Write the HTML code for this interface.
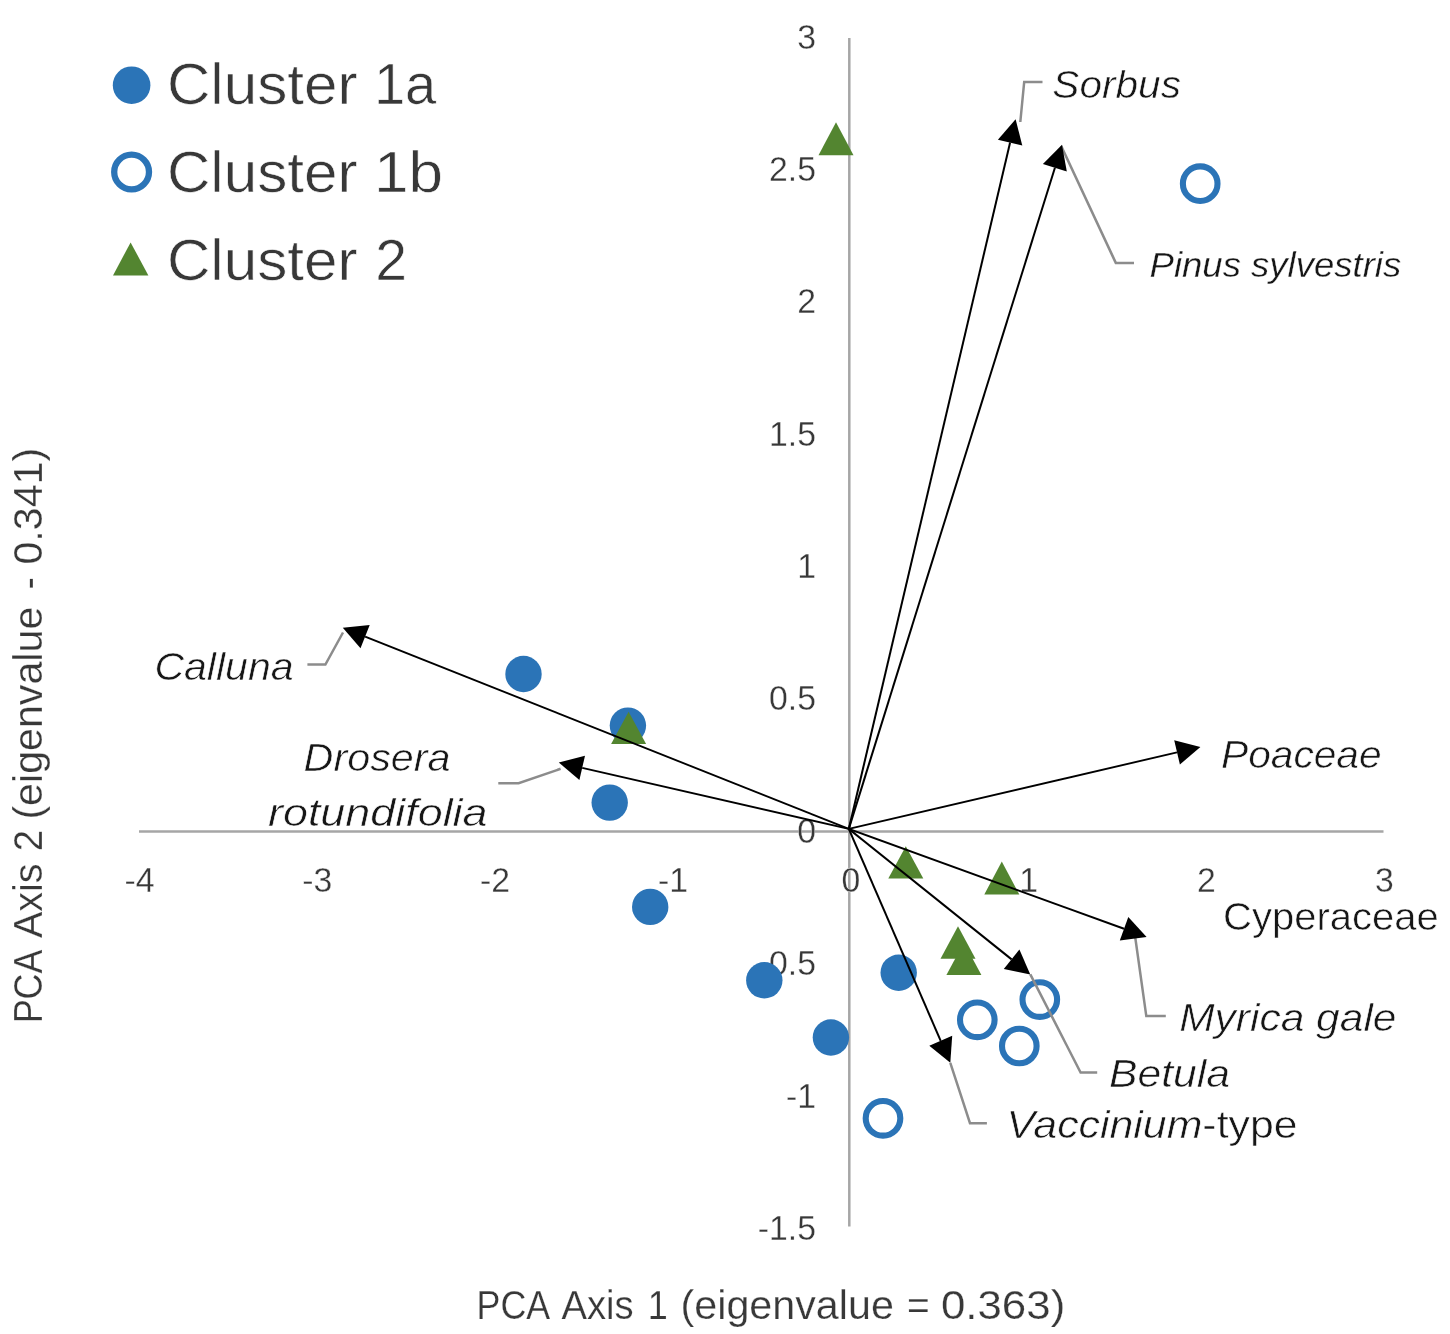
<!DOCTYPE html>
<html><head><meta charset="utf-8"><title>PCA biplot</title>
<style>html,body{margin:0;padding:0;background:#fff;}svg{display:block;}text{font-family:"Liberation Sans",sans-serif;}</style></head>
<body>
<svg width="1450" height="1334" viewBox="0 0 1450 1334">
<rect x="0" y="0" width="1450" height="1334" fill="#ffffff"/>
<g stroke="#a6a6a6" stroke-width="2.5" fill="none">
<line x1="139" y1="831.4" x2="1383.5" y2="831.4"/>
<line x1="849.3" y1="38" x2="849.3" y2="1226.5"/>
</g>
<g font-size="35" fill="#383838" stroke="#fff" stroke-width="0.3" opacity="0.999">
<text transform="translate(816.0,48.7) scale(0.965,1)" text-anchor="end">3</text>
<text transform="translate(816.0,181.0) scale(0.965,1)" text-anchor="end">2.5</text>
<text transform="translate(816.0,313.4) scale(0.965,1)" text-anchor="end">2</text>
<text transform="translate(816.0,445.8) scale(0.965,1)" text-anchor="end">1.5</text>
<text transform="translate(816.0,578.1) scale(0.965,1)" text-anchor="end">1</text>
<text transform="translate(816.0,710.4) scale(0.965,1)" text-anchor="end">0.5</text>
<text transform="translate(816.0,842.8) scale(0.965,1)" text-anchor="end">0</text>
<text transform="translate(816.0,975.1) scale(0.965,1)" text-anchor="end">-0.5</text>
<text transform="translate(816.0,1107.5) scale(0.965,1)" text-anchor="end">-1</text>
<text transform="translate(816.0,1239.8) scale(0.965,1)" text-anchor="end">-1.5</text>
<text transform="translate(139.4,891.8) scale(0.965,1)" text-anchor="middle">-4</text>
<text transform="translate(317.2,891.8) scale(0.965,1)" text-anchor="middle">-3</text>
<text transform="translate(495.1,891.8) scale(0.965,1)" text-anchor="middle">-2</text>
<text transform="translate(672.9,891.8) scale(0.965,1)" text-anchor="middle">-1</text>
<text transform="translate(850.8,891.8) scale(0.965,1)" text-anchor="middle">0</text>
<text transform="translate(1028.6,891.8) scale(0.965,1)" text-anchor="middle">1</text>
<text transform="translate(1206.5,891.8) scale(0.965,1)" text-anchor="middle">2</text>
<text transform="translate(1384.3,891.8) scale(0.965,1)" text-anchor="middle">3</text>
</g>
<circle cx="523.5" cy="674.0" r="18.2" fill="#2b74b7"/>
<circle cx="627.9" cy="725.6" r="18.2" fill="#2b74b7"/>
<circle cx="609.7" cy="802.6" r="18.2" fill="#2b74b7"/>
<circle cx="650.2" cy="906.9" r="18.2" fill="#2b74b7"/>
<circle cx="764.3" cy="980.3" r="18.2" fill="#2b74b7"/>
<circle cx="898.7" cy="972.7" r="18.2" fill="#2b74b7"/>
<circle cx="830.9" cy="1037.5" r="18.2" fill="#2b74b7"/>
<circle cx="1200.2" cy="183.7" r="17.3" fill="none" stroke="#2b74b7" stroke-width="6.1"/>
<circle cx="1039.8" cy="999.6" r="17.3" fill="none" stroke="#2b74b7" stroke-width="6.1"/>
<circle cx="977.3" cy="1019.8" r="17.3" fill="none" stroke="#2b74b7" stroke-width="6.1"/>
<circle cx="1019.3" cy="1046.0" r="17.3" fill="none" stroke="#2b74b7" stroke-width="6.1"/>
<circle cx="883.0" cy="1118.3" r="17.3" fill="none" stroke="#2b74b7" stroke-width="6.1"/>
<polygon points="836.0,122.2 853.5,155.2 818.5,155.2" fill="#538530"/>
<polygon points="628.6,711.8 646.1,744.1 611.1,744.1" fill="#538530"/>
<polygon points="905.8,846.2 923.3,878.4 888.3,878.4" fill="#538530"/>
<polygon points="1001.8,861.6 1019.3,894.4 984.3,894.4" fill="#538530"/>
<polygon points="958.0,926.3 975.5,958.7 940.5,958.7" fill="#538530"/>
<polygon points="963.9,942.4 981.4,974.9 946.4,974.9" fill="#538530"/>
<g stroke="#8c8c8c" stroke-width="2.5" fill="none" stroke-linejoin="miter">
<polyline points="1020.3,122 1024.2,82 1042.5,82"/>
<polyline points="1061.2,146 1115.8,262.9 1134,262.9"/>
<polyline points="343,632.5 325.4,664.5 307.4,664.5"/>
<polyline points="560.6,768.8 518.6,783.3 498.3,783.3"/>
<polyline points="1134.2,930 1146.3,1016.1 1165.8,1016.1"/>
<polyline points="1030.3,974.4 1080.6,1072.5 1097.2,1072.5"/>
<polyline points="950.3,1062.8 970,1123.2 986.9,1123.2"/>
</g>
<line x1="848.8" y1="828.9" x2="1010.1" y2="142.6" stroke="#000" stroke-width="2.0"/>
<polygon points="1015.6,119.2 1022.3,145.4 997.9,139.7" fill="#000"/>
<line x1="848.8" y1="828.9" x2="1054.9" y2="167.7" stroke="#000" stroke-width="2.0"/>
<polygon points="1062.0,144.8 1066.8,171.4 1042.9,164.0" fill="#000"/>
<line x1="848.8" y1="828.9" x2="365.1" y2="636.6" stroke="#000" stroke-width="2.0"/>
<polygon points="342.8,627.7 369.7,625.0 360.5,648.2" fill="#000"/>
<line x1="848.8" y1="828.9" x2="582.2" y2="767.9" stroke="#000" stroke-width="2.0"/>
<polygon points="558.8,762.5 585.0,755.7 579.4,780.0" fill="#000"/>
<line x1="848.8" y1="828.9" x2="1177.0" y2="752.4" stroke="#000" stroke-width="2.0"/>
<polygon points="1200.4,746.9 1179.9,764.5 1174.2,740.2" fill="#000"/>
<line x1="848.8" y1="828.9" x2="1124.0" y2="928.8" stroke="#000" stroke-width="2.0"/>
<polygon points="1146.6,937.0 1119.8,940.6 1128.3,917.1" fill="#000"/>
<line x1="848.8" y1="828.9" x2="1011.6" y2="959.4" stroke="#000" stroke-width="2.0"/>
<polygon points="1030.3,974.4 1003.8,969.1 1019.4,949.6" fill="#000"/>
<line x1="848.8" y1="828.9" x2="940.7" y2="1040.8" stroke="#000" stroke-width="2.0"/>
<polygon points="950.3,1062.8 929.3,1045.8 952.2,1035.8" fill="#000"/>
<g opacity="0.999">
<text x="1052.3" y="97.6" font-size="38" fill="#161616" font-style="italic" stroke="#fff" stroke-width="0.55" textLength="128.64" lengthAdjust="spacingAndGlyphs">Sorbus</text>
<text x="1149.6" y="276.6" font-size="35" fill="#161616" font-style="italic" stroke="#fff" stroke-width="0.3" textLength="251.57" lengthAdjust="spacingAndGlyphs">Pinus sylvestris</text>
<text x="154.4" y="680.0" font-size="38" fill="#161616" font-style="italic" stroke="#fff" stroke-width="0.55" textLength="139.19" lengthAdjust="spacingAndGlyphs">Calluna</text>
<text x="303.6" y="770.8" font-size="38" fill="#161616" font-style="italic" stroke="#fff" stroke-width="0.55" textLength="146.93" lengthAdjust="spacingAndGlyphs">Drosera</text>
<text x="268.0" y="826.4" font-size="38" fill="#161616" font-style="italic" stroke="#fff" stroke-width="0.55" textLength="219.53" lengthAdjust="spacingAndGlyphs">rotundifolia</text>
<text x="1221.0" y="768.2" font-size="38" fill="#161616" font-style="italic" stroke="#fff" stroke-width="0.55" textLength="160.63" lengthAdjust="spacingAndGlyphs">Poaceae</text>
<text x="1223.0" y="929.5" font-size="38" fill="#161616" stroke="#fff" stroke-width="0.55" textLength="215.71" lengthAdjust="spacingAndGlyphs">Cyperaceae</text>
<text x="1179.2" y="1031.3" font-size="38" fill="#161616" font-style="italic" stroke="#fff" stroke-width="0.55" textLength="217.29" lengthAdjust="spacingAndGlyphs">Myrica gale</text>
<text x="1109.0" y="1087.3" font-size="38" fill="#161616" font-style="italic" stroke="#fff" stroke-width="0.55" textLength="121.02" lengthAdjust="spacingAndGlyphs">Betula</text>
<text x="1006.4" y="1137.6" font-size="38" fill="#161616" stroke="#fff" stroke-width="0.55" textLength="291.19" lengthAdjust="spacingAndGlyphs"><tspan font-style="italic">Vaccinium</tspan>-type</text>
<text x="476.6" y="1318.8" font-size="41" fill="#383838" stroke="#fff" stroke-width="0.25" textLength="73.6" lengthAdjust="spacingAndGlyphs">PCA</text>
<text x="561.5" y="1318.8" font-size="41" fill="#383838" stroke="#fff" stroke-width="0.25" textLength="72.17" lengthAdjust="spacingAndGlyphs">Axis</text>
<text x="647.7" y="1318.8" font-size="41" fill="#383838" stroke="#fff" stroke-width="0.25" textLength="20.05" lengthAdjust="spacingAndGlyphs">1</text>
<text x="680.6" y="1318.8" font-size="41" fill="#383838" stroke="#fff" stroke-width="0.25" textLength="213.23" lengthAdjust="spacingAndGlyphs">(eigenvalue</text>
<text x="906.9" y="1318.8" font-size="41" fill="#383838" stroke="#fff" stroke-width="0.25" textLength="22.76" lengthAdjust="spacingAndGlyphs">=</text>
<text x="940.9" y="1318.8" font-size="41" fill="#383838" stroke="#fff" stroke-width="0.25" textLength="124.37" lengthAdjust="spacingAndGlyphs">0.363)</text>
<text transform="translate(42.0,1023.3) rotate(-90)" font-size="41" fill="#383838" stroke="#fff" stroke-width="0.25" textLength="73.59" lengthAdjust="spacingAndGlyphs">PCA</text>
<text transform="translate(42.0,938.1) rotate(-90)" font-size="41" fill="#383838" stroke="#fff" stroke-width="0.25" textLength="74.72" lengthAdjust="spacingAndGlyphs">Axis</text>
<text transform="translate(42.0,851.3) rotate(-90)" font-size="41" fill="#383838" stroke="#fff" stroke-width="0.25" textLength="21.31" lengthAdjust="spacingAndGlyphs">2</text>
<text transform="translate(42.0,819.6) rotate(-90)" font-size="41" fill="#383838" stroke="#fff" stroke-width="0.25" textLength="212.92" lengthAdjust="spacingAndGlyphs">(eigenvalue</text>
<text transform="translate(42.0,589.4) rotate(-90)" font-size="41" fill="#383838" stroke="#fff" stroke-width="0.25" textLength="12.29" lengthAdjust="spacingAndGlyphs">-</text>
<text transform="translate(42.0,564.6) rotate(-90)" font-size="41" fill="#383838" stroke="#fff" stroke-width="0.25" textLength="116.79" lengthAdjust="spacingAndGlyphs">0.341)</text>
<text x="166.9" y="104.0" font-size="58" fill="#383838" stroke="#fff" stroke-width="0.6" textLength="190.66" lengthAdjust="spacingAndGlyphs">Cluster</text>
<text x="373.9" y="104.0" font-size="58" fill="#383838" stroke="#fff" stroke-width="0.6" textLength="62.45" lengthAdjust="spacingAndGlyphs">1a</text>
<text x="166.9" y="191.8" font-size="58" fill="#383838" stroke="#fff" stroke-width="0.6" textLength="190.66" lengthAdjust="spacingAndGlyphs">Cluster</text>
<text x="373.9" y="191.8" font-size="58" fill="#383838" stroke="#fff" stroke-width="0.6" textLength="69.04" lengthAdjust="spacingAndGlyphs">1b</text>
<text x="166.9" y="280.1" font-size="58" fill="#383838" stroke="#fff" stroke-width="0.6" textLength="190.66" lengthAdjust="spacingAndGlyphs">Cluster</text>
<text x="375.2" y="280.1" font-size="58" fill="#383838" stroke="#fff" stroke-width="0.6" textLength="31.78" lengthAdjust="spacingAndGlyphs">2</text>
</g>
<circle cx="131.6" cy="85.2" r="18.8" fill="#2b74b7"/>
<circle cx="131.6" cy="172" r="17.4" fill="none" stroke="#2b74b7" stroke-width="6.3"/>
<polygon points="130.6,242.4 148.4,275.5 113,275.5" fill="#538530"/>
</svg></body></html>
